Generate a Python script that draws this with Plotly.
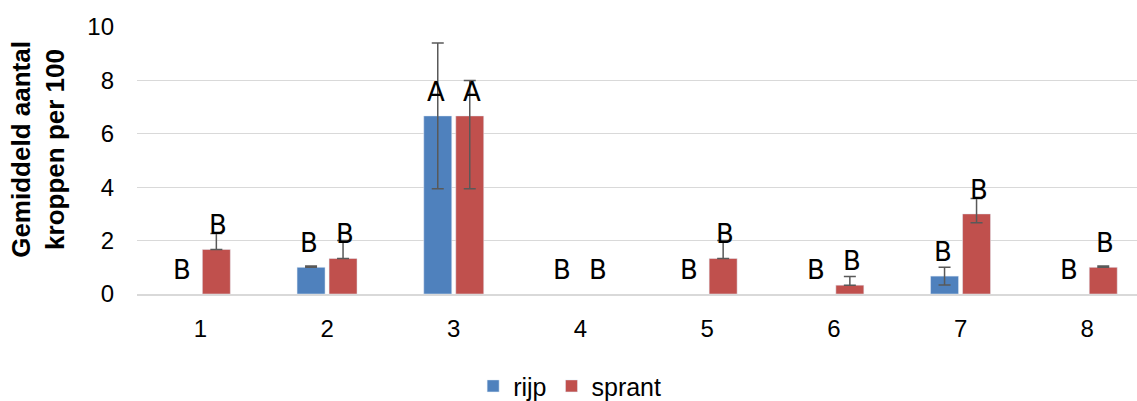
import plotly.graph_objects as go

categories = ["1", "2", "3", "4", "5", "6", "7", "8"]
rijp = [0, 1.0, 6.67, 0, 0, 0, 0.67, 0]
rijp_err_plus = [0, 0.05, 2.73, 0, 0, 0, 0.33, 0]
rijp_err_minus = [0, 0, 2.73, 0, 0, 0, 0.33, 0]
sprant = [1.67, 1.33, 6.67, 0, 1.33, 0.33, 3.0, 1.0]
sprant_err_plus = [0.6, 0.67, 1.33, 0, 0.67, 0.33, 0.58, 0.05]
sprant_err_minus = [0, 0, 2.73, 0, 0, 0, 0.33, 0]
rijp_letters = ["B", "B", "A", "B", "B", "B", "B", "B"]
sprant_letters = ["B", "B", "A", "B", "B", "B", "B", "B"]

x = list(range(1, len(categories) + 1))
FONT = "Liberation Sans, Arial, sans-serif"
ERR_COLOR = "#595959"


def drawn(vals):
    # zero-height bars are invisible; leave them out so no error caps sit on the axis
    return [v if v != 0 else None for v in vals]


fig = go.Figure()
fig.add_trace(go.Bar(
    x=x, y=drawn(rijp), name="rijp", marker_color="#4F81BD",
    error_y=dict(type="data", symmetric=False, array=rijp_err_plus,
                 arrayminus=rijp_err_minus, color=ERR_COLOR, thickness=1.5, width=6),
))
fig.add_trace(go.Bar(
    x=x, y=drawn(sprant), name="sprant", marker_color="#C0504D",
    error_y=dict(type="data", symmetric=False, array=sprant_err_plus,
                 arrayminus=sprant_err_minus, color=ERR_COLOR, thickness=1.5, width=6),
))

offset = 0.142
annotations = []
for i, xi in enumerate(x):
    for dx, val, lab in ((-offset, rijp[i], rijp_letters[i]), (offset, sprant[i], sprant_letters[i])):
        annotations.append(dict(
            x=xi + dx, y=val, xref="x", yref="y", text=lab, showarrow=False,
            yanchor="bottom", xanchor="center", yshift=7,
            font=dict(family="DejaVu Sans", size=26, color="black"),
        ))
annotations.append(dict(
    x=-0.099, y=0.54, xref="paper", yref="paper", xanchor="center", yanchor="middle",
    text="<b>Gemiddeld aantal<br>kroppen per 100</b>", textangle=-90, showarrow=False,
    font=dict(family=FONT, size=26, color="black"),
))

fig.update_layout(
    width=1137, height=401,
    margin=dict(l=137, r=0, t=27, b=107, autoexpand=False),
    paper_bgcolor="white", plot_bgcolor="white",
    barmode="group", bargap=0.495, bargroupgap=0.125,
    font=dict(family=FONT, size=24, color="#000000"),
    showlegend=True,
    legend=dict(orientation="h", xref="container", yref="container",
                x=0.501, xanchor="center", y=0.037, yanchor="middle",
                font=dict(family=FONT, size=25, color="black"), itemwidth=30),
    annotations=annotations,
)
fig.update_xaxes(
    range=[0.5, 0.5 + 1000 / 126.7], tickvals=x, ticktext=categories,
    showgrid=False, zeroline=False, showline=True, linecolor="#D9D9D9", linewidth=2,
    ticks="", ticklabelstandoff=12, tickfont=dict(size=24, color="#000000"),
)
fig.update_yaxes(
    range=[0, 10], tickvals=[0, 2, 4, 6, 8, 10], showgrid=True, gridcolor="#D9D9D9",
    gridwidth=1.3, zeroline=False, showline=False, ticks="",
    ticklabelstandoff=22, tickfont=dict(size=24, color="#000000"),
)

fig.write_html("out.html")
